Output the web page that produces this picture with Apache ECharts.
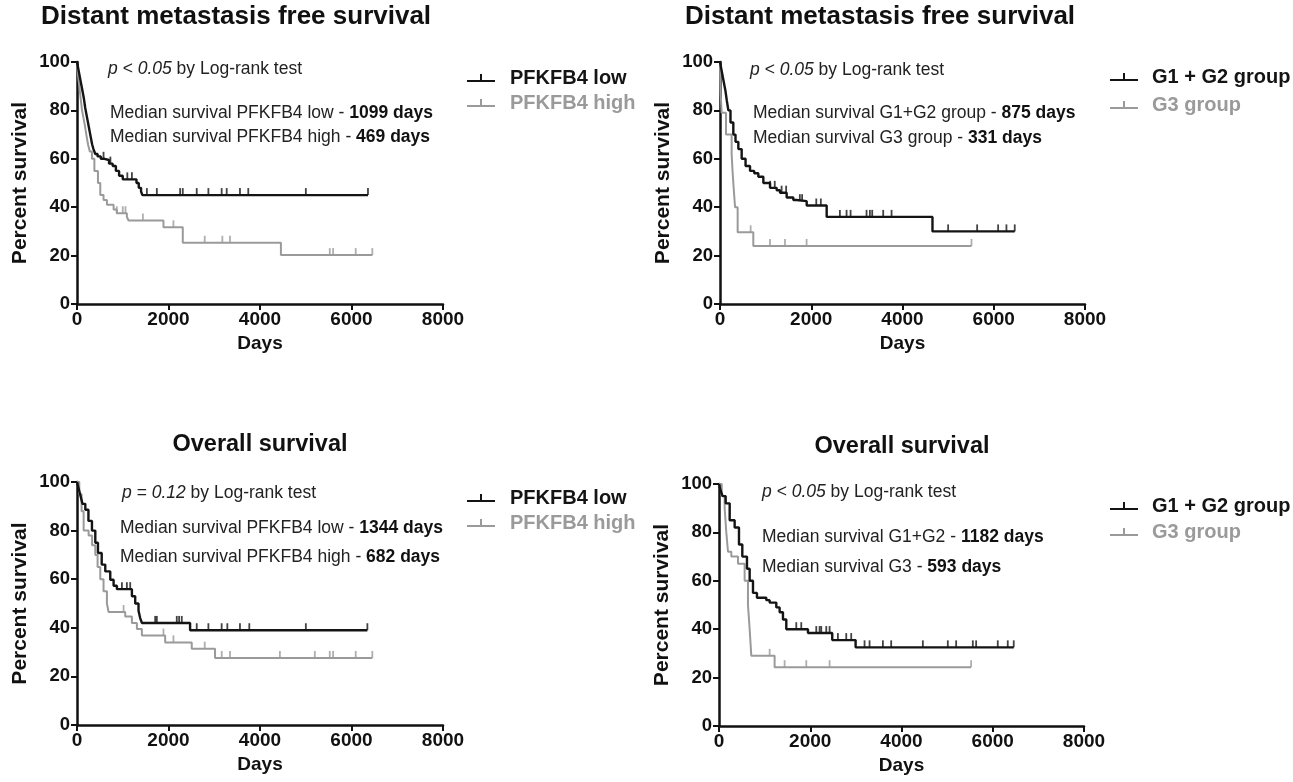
<!DOCTYPE html>
<html>
<head>
<meta charset="utf-8">
<script src="https://cdn.jsdelivr.net/npm/echarts@6/dist/echarts.min.js"></script>
<style>
html,body{margin:0;padding:0;background:#fff;}
#c{width:1293px;height:782px;}
</style>
</head>
<body>
<div id="c"></div>
<script>
// ---------- DATA ----------
const xTicks = [0, 2000, 4000, 6000, 8000];
const yTicks = [0, 20, 40, 60, 80, 100];

// Panel 1: Distant metastasis free survival, PFKFB4
const dmfsLowDays  = [0,30,60,90,120,150,180,210,240,270,300,330,360,400,450,520,600,700,780,850,920,1000,1300,1350,1400,1430,6360];
const dmfsLowPct   = [100,97,94,91,88,85,81,78,75,72,69,66,64,62,61,60,59.5,58,57,55,53,51.5,50,48,46.5,45,45];
const dmfsLowCens  = [580,730,1100,1200,1527,1745,2254,2312,2617,2872,3162,3272,3562,3744,5002,6360];
const dmfsHighDays = [0,20,50,80,110,140,170,204,240,280,327,380,458,509,580,654,800,870,1090,1127,1890,2312,4457,6455];
const dmfsHighPct  = [100,95,90,85,80,77,74,70,66,63,60,55,50,45,43,41,39,37.5,36,34.5,31.7,25.3,20.2,20.2];
const dmfsHighCens = [870,1000,1060,1440,2108,2792,3177,3344,5525,5598,6092,6455];

// Panel 2: Distant metastasis free survival, grade
const dmfsG12Days = [0,30,60,90,120,150,183,230,292,340,402,475,560,658,750,840,950,1096,1242,1315,1461,1607,1680,1900,2338,4657,6460];
const dmfsG12Pct  = [100,97,94,91,88,84,80,75,70,67,64,60,57,55,54,52.6,50,48,47,46,44,43,42.5,40.7,36,30,30];
const dmfsG12Cens = [1100,1200,1350,1450,1750,1800,2110,2210,2628,2774,2862,3212,3285,3336,3577,3760,5000,5636,6096,6278,6460];
const dmfsG3Days  = [0,15,36,131,255,275,292,330,387,730,5512];
const dmfsG3Pct   = [100,87,79,70,62,55,50,40,29.6,24,24];
const dmfsG3Cens  = [672,1095,1424,1898,5512];

// Panel 3: Overall survival, PFKFB4
const osLowDays  = [0,40,80,120,182,250,327,400,458,540,618,727,800,872,1200,1272,1345,1381,1418,2472,6347];
const osLowPct   = [100,97,94,91,88.6,84,80,75,70.8,66,63.2,59.8,57.3,55.9,53,50,47,44,42,39,39];
const osLowCens  = [982,1090,1163,1709,1745,2181,2232,2290,2617,2872,3162,3286,3562,3766,5002,6347];
const osHighDays = [0,50,100,145,254,330,400,450,509,580,654,690,1054,1200,1309,1418,1927,2508,3017,6455];
const osHighPct  = [100,95,88,80,78,74,70,65,60,55,50,46.5,44.7,42,39.5,36.8,34,31.4,27.6,27.6];
const osHighCens = [1018,1890,2108,2792,3163,3344,4435,5198,5525,5598,6092,6455];

// Panel 4: Overall survival, grade
const osG12Days = [0,40,80,146,234,343,438,511,613,672,745,832,1037,1110,1256,1329,1402,1475,1950,2482,2994,6460];
const osG12Pct  = [100,97,95,92,85,82,75,70,65,60,55,53,52,51,49,47,44,40,38.4,35.5,32.5,32.5];
const osG12Cens = [1694,1803,2132,2205,2241,2351,2424,2606,2789,2898,3190,3300,3592,3774,4468,5015,5198,5563,5636,6110,6329,6460];
const osG3Days  = [0,60,124,160,197,270,416,562,635,672,708,1219,5526];
const osG3Pct   = [100,95,90,80,72,70,67,60,50,40,29,24.3,24.3];
const osG3Cens  = [1110,1438,1913,2424,5526];

// ---------- STYLE ----------
const FONT = "'Liberation Sans', Arial, Helvetica, sans-serif";
const BLACK = '#141414';
const GRAY = '#9a9a9a';

function pairs(d, p) { return d.map((x, i) => [x, p[i]]); }
function censPts(cens, d, p) {
  return cens.map(c => {
    let v = p[0];
    for (let i = 0; i < d.length; i++) { if (d[i] <= c) v = p[i]; }
    return [c, v];
  });
}

const grids = [
  {left: 77, top: 62, width: 366, height: 242},
  {left: 720, top: 62, width: 365, height: 242},
  {left: 77, top: 482, width: 366, height: 243},
  {left: 719, top: 484, width: 365, height: 242}
];

const xAxes = grids.map((g, i) => ({
  gridIndex: i, type: 'value', min: 0, max: 8000, interval: 2000,
  name: 'Days', nameLocation: 'middle', nameGap: 30,
  nameTextStyle: {fontFamily: FONT, fontWeight: 'bold', fontSize: 19, color: '#111'},
  axisLine: {show: true, onZero: false, lineStyle: {color: '#111', width: 2.5}},
  axisTick: {show: true, length: 6, lineStyle: {color: '#111', width: 2}},
  axisLabel: {margin: 6, fontFamily: FONT, fontWeight: 'bold', fontSize: 19, color: '#111',
    formatter: v => xTicks.includes(v) ? String(v) : ''},
  splitLine: {show: false}
}));
const yAxes = grids.map((g, i) => ({
  gridIndex: i, type: 'value', min: 0, max: 100, interval: 20,
  name: 'Percent survival', nameLocation: 'middle', nameGap: 46,
  nameTextStyle: {fontFamily: FONT, fontWeight: 'bold', fontSize: 21, color: '#111'},
  axisLine: {show: true, onZero: false, lineStyle: {color: '#111', width: 2.5}},
  axisTick: {show: true, length: 6, lineStyle: {color: '#111', width: 2}},
  axisLabel: {margin: 7, fontFamily: FONT, fontWeight: 'bold', fontSize: 18.5, color: '#111',
    formatter: v => yTicks.includes(v) ? String(v) : ''},
  splitLine: {show: false}
}));

function km(name, idx, d, p, color) {
  return {
    name: name, type: 'line', step: 'end', xAxisIndex: idx, yAxisIndex: idx,
    data: pairs(d, p), showSymbol: false, symbol: 'none', silent: true,
    lineStyle: {color: color, width: color === BLACK ? 2.4 : 2}, itemStyle: {color: color},
    z: color === BLACK ? 3 : 2
  };
}
function cens(idx, c, d, p, color) {
  return {
    type: 'scatter', xAxisIndex: idx, yAxisIndex: idx, silent: true,
    data: censPts(c, d, p), symbol: 'rect', symbolSize: [1.8, 7], symbolOffset: [0, -3.5],
    itemStyle: {color: color}, z: 4
  };
}

const series = [
  km('PFKFB4 low', 0, dmfsLowDays, dmfsLowPct, BLACK),
  km('PFKFB4 high', 0, dmfsHighDays, dmfsHighPct, GRAY),
  cens(0, dmfsLowCens, dmfsLowDays, dmfsLowPct, BLACK),
  cens(0, dmfsHighCens, dmfsHighDays, dmfsHighPct, GRAY),
  km('G1 + G2 group', 1, dmfsG12Days, dmfsG12Pct, BLACK),
  km('G3 group', 1, dmfsG3Days, dmfsG3Pct, GRAY),
  cens(1, dmfsG12Cens, dmfsG12Days, dmfsG12Pct, BLACK),
  cens(1, dmfsG3Cens, dmfsG3Days, dmfsG3Pct, GRAY),
  km('PFKFB4 low', 2, osLowDays, osLowPct, BLACK),
  km('PFKFB4 high', 2, osHighDays, osHighPct, GRAY),
  cens(2, osLowCens, osLowDays, osLowPct, BLACK),
  cens(2, osHighCens, osHighDays, osHighPct, GRAY),
  km('G1 + G2 group', 3, osG12Days, osG12Pct, BLACK),
  km('G3 group', 3, osG3Days, osG3Pct, GRAY),
  cens(3, osG12Cens, osG12Days, osG12Pct, BLACK),
  cens(3, osG3Cens, osG3Days, osG3Pct, GRAY)
];

const ICON = 'path://M0,7L28,7L28,9L0,9Z M13,1L15,1L15,8L13,8Z';
function legend(left, top, gap, padL, names) {
  return {
    left: left, top: top, orient: 'vertical', itemGap: gap, itemWidth: 28, itemHeight: 9,
    icon: ICON, selectedMode: false, padding: 0,
    textStyle: {fontFamily: FONT, fontWeight: 'bold', fontSize: 20, padding: [0, 0, 0, padL]},
    data: [
      {name: names[0], textStyle: {color: BLACK}},
      {name: names[1], textStyle: {color: GRAY}}
    ]
  };
}

const FS = 17.5;
const RICH = {
  i: {fontFamily: FONT, fontStyle: 'italic', fontSize: FS, fill: '#222'},
  n: {fontFamily: FONT, fontSize: FS, fill: '#222'},
  b: {fontFamily: FONT, fontWeight: 'bold', fontSize: FS, fill: '#111'}
};
function txt(x, y, text) {
  return {type: 'text', x: x, y: y, silent: true,
    style: {text: text, rich: RICH, align: 'left', verticalAlign: 'middle', fontFamily: FONT, fontSize: FS}};
}
function title(x, y, text, size) {
  return {type: 'text', x: x, y: y, silent: true,
    style: {text: text, align: 'center', verticalAlign: 'middle', fontFamily: FONT, fontWeight: 'bold', fontSize: size, fill: '#111'}};
}

const graphics = [
  title(236, 17, 'Distant metastasis free survival', 26),
  title(880, 17, 'Distant metastasis free survival', 26),
  title(260, 445, 'Overall survival', 23.5),
  title(902, 447, 'Overall survival', 23.5),
  txt(108, 69, '{i|p < 0.05}{n| by Log-rank test}'),
  txt(110, 113, '{n|Median survival PFKFB4 low - }{b|1099 days}'),
  txt(110, 137, '{n|Median survival PFKFB4 high - }{b|469 days}'),
  txt(750, 70, '{i|p < 0.05}{n| by Log-rank test}'),
  txt(753, 113, '{n|Median survival G1+G2 group - }{b|875 days}'),
  txt(753, 138, '{n|Median survival G3 group - }{b|331 days}'),
  txt(122, 493, '{i|p = 0.12}{n| by Log-rank test}'),
  txt(120, 528, '{n|Median survival PFKFB4 low - }{b|1344 days}'),
  txt(120, 557, '{n|Median survival PFKFB4 high - }{b|682 days}'),
  txt(762, 492, '{i|p < 0.05}{n| by Log-rank test}'),
  txt(762, 537, '{n|Median survival G1+G2 - }{b|1182 days}'),
  txt(762, 567, '{n|Median survival G3 - }{b|593 days}')
];

const chart = echarts.init(document.getElementById('c'), null, {renderer: 'canvas'});
chart.setOption({
  animation: false,
  backgroundColor: '#ffffff',
  grid: grids,
  xAxis: xAxes,
  yAxis: yAxes,
  legend: [
    legend(467, 68, 5, 10, ['PFKFB4 low', 'PFKFB4 high']),
    legend(1110, 67, 8, 9, ['G1 + G2 group', 'G3 group']),
    legend(467, 488, 5, 10, ['PFKFB4 low', 'PFKFB4 high']),
    legend(1110, 496, 6, 9, ['G1 + G2 group', 'G3 group'])
  ],
  series: series,
  graphic: graphics
});
</script>
</body>
</html>
